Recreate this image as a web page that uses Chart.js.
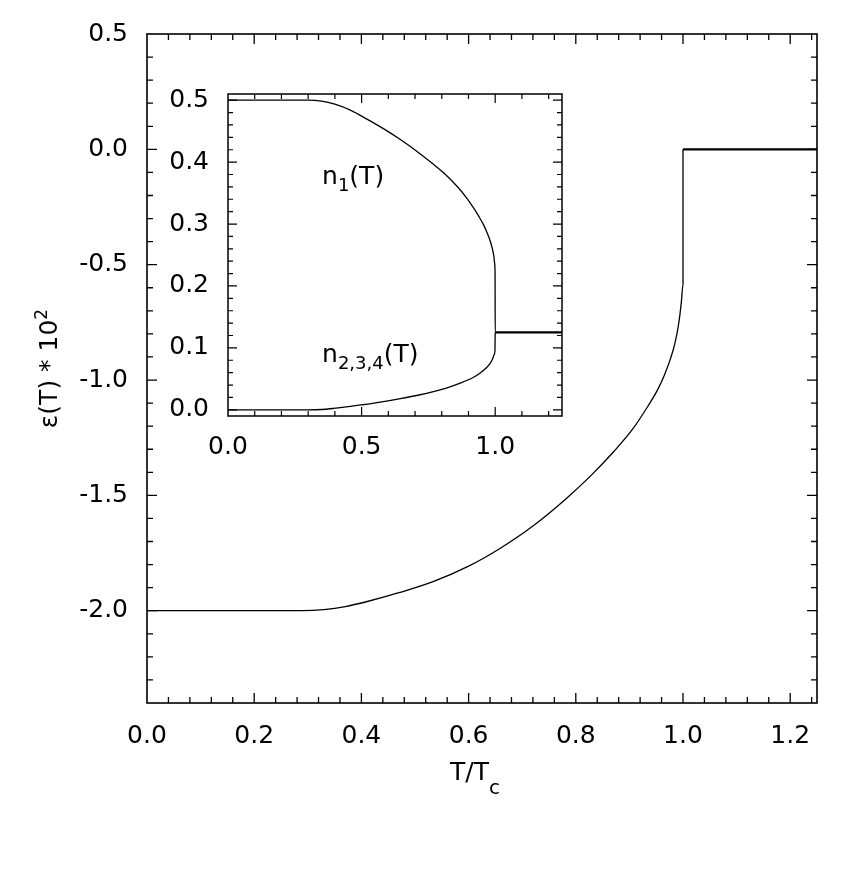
<!DOCTYPE html>
<html>
<head>
<meta charset="utf-8">
<title>epsilon(T) and n(T)</title>
<script src="https://cdn.jsdelivr.net/npm/chart.js@4.4.1/dist/chart.umd.min.js"></script>
<style>
    body { margin: 0; background: #fff; }
    #wrap { position: relative; width: 852px; height: 892px; }
    #mainBox { position: absolute; left: 0; top: 0; width: 852px; height: 892px; }
    #insetBox { position: absolute; left: 150px; top: 60px; width: 430px; height: 420px; }
</style>
</head>
<body>
<div id="wrap">
    <div id="mainBox"><canvas id="mainChart"></canvas></div>
    <div id="insetBox"><canvas id="insetChart"></canvas></div>
</div>
<script>
// main panel: eps(T) * 10^2 against T/Tc
const mainT   = [0, 0.1, 0.2, 0.29, 0.33, 0.37, 0.411, 0.47, 0.535, 0.6, 0.66, 0.72, 0.784, 0.83, 0.871, 0.907, 0.93, 0.952, 0.965, 0.977, 0.985, 0.992, 0.997, 1.0, 1.0, 1.25];
const mainEps = [-2.0, -2.0, -2.0, -2.0, -1.995, -1.982, -1.96, -1.922, -1.873, -1.807, -1.728, -1.633, -1.51, -1.41, -1.31, -1.21, -1.13, -1.045, -0.98, -0.905, -0.84, -0.755, -0.66, -0.586, 0.0, 0.0];

// inset: occupation numbers
const insetT1  = [0, 0.1, 0.2, 0.3, 0.35, 0.4, 0.46, 0.52, 0.58, 0.645, 0.71, 0.769, 0.81, 0.857, 0.89, 0.919, 0.94, 0.956, 0.97, 0.981, 0.99, 0.995, 0.998, 0.9995, 1.0, 1.25];
const insetN1  = [0.5, 0.5, 0.5, 0.5, 0.4985, 0.4935, 0.4835, 0.4695, 0.4545, 0.4365, 0.4165, 0.3965, 0.3815, 0.361, 0.344, 0.326, 0.3115, 0.299, 0.2855, 0.273, 0.259, 0.248, 0.236, 0.22, 0.125, 0.125];
const insetT2  = [0, 0.1, 0.2, 0.3, 0.35, 0.395, 0.45, 0.5, 0.57, 0.645, 0.71, 0.769, 0.82, 0.869, 0.919, 0.944, 0.965, 0.981, 0.991, 0.996, 0.999, 1.0];
const insetN234 = [0, 0, 0, 0, 0.0005, 0.0022, 0.005, 0.008, 0.0125, 0.018, 0.0235, 0.0295, 0.0355, 0.043, 0.0525, 0.0595, 0.067, 0.075, 0.083, 0.089, 0.095, 0.125];

// tick labels
const mainXLabels  = [0, 0.2, 0.4, 0.6, 0.8, 1.0, 1.2];
const mainYLabels  = [-2.0, -1.5, -1.0, -0.5, 0.0, 0.5];
const insetXLabels = [0, 0.5, 1.0];
const insetYLabels = [0, 0.1, 0.2, 0.3, 0.4, 0.5];

document.addEventListener('DOMContentLoaded', function() {
    Chart.defaults.font.family = "'DejaVu Sans', sans-serif";
    Chart.defaults.font.size = 25;
    Chart.defaults.color = '#000';

    const FONT = "'DejaVu Sans', sans-serif";

    // box around the plot area plus inward ticks on all four sides
    const frameTicks = {
        id: 'frameTicks',
        afterDraw(chart, args, opts) {
            const { ctx, chartArea: a, scales } = chart;
            ctx.save();
            ctx.strokeStyle = '#000';
            ctx.lineWidth = opts.tickWidth;
            ctx.beginPath();
            tickValues(scales.x, opts.xStep).forEach(v => {
                const px = scales.x.getPixelForValue(v);
                if (px < a.left + 1 || px > a.right - 1) return;
                const len = isMajor(v, opts.xMajor) ? opts.majorLen : opts.minorLen;
                ctx.moveTo(px, a.bottom); ctx.lineTo(px, a.bottom - len);
                ctx.moveTo(px, a.top); ctx.lineTo(px, a.top + len);
            });
            tickValues(scales.y, opts.yStep).forEach(v => {
                const py = scales.y.getPixelForValue(v);
                if (py < a.top + 1 || py > a.bottom - 1) return;
                const len = isMajor(v, opts.yMajor) ? opts.majorLen : opts.minorLen;
                ctx.moveTo(a.left, py); ctx.lineTo(a.left + len, py);
                ctx.moveTo(a.right, py); ctx.lineTo(a.right - len, py);
            });
            ctx.stroke();
            ctx.lineWidth = opts.frameWidth;
            ctx.strokeRect(a.left, a.top, a.right - a.left, a.bottom - a.top);
            ctx.restore();
        }
    };

    // text with sub/superscripts
    const richText = {
        id: 'richText',
        afterDraw(chart, args, opts) {
            const { ctx, chartArea: a, scales } = chart;
            ctx.save();
            ctx.fillStyle = '#000';
            ctx.textBaseline = 'alphabetic';
            opts.items.forEach(item => {
                let x, y;
                if (item.at === 'data') {
                    x = scales.x.getPixelForValue(item.x);
                    y = scales.y.getPixelForValue(item.y);
                } else if (item.at === 'bottom') {
                    x = (a.left + a.right) / 2 + item.dx;
                    y = a.bottom + item.dy;
                } else {
                    x = a.left + item.dx;
                    y = (a.top + a.bottom) / 2;
                }
                ctx.save();
                ctx.translate(x, y);
                if (item.rotate) ctx.rotate(-Math.PI / 2);
                drawRich(ctx, item.parts, item.align);
                ctx.restore();
            });
            ctx.restore();
        }
    };

    function drawRich(ctx, parts, align) {
        let w = 0;
        parts.forEach(p => {
            ctx.font = (p.s || 25) + 'px ' + FONT;
            w += ctx.measureText(p.t).width;
        });
        let cx = align === 'center' ? -w / 2 : 0;
        parts.forEach(p => {
            ctx.font = (p.s || 25) + 'px ' + FONT;
            ctx.fillText(p.t, cx, p.dy || 0);
            cx += ctx.measureText(p.t).width;
        });
    }

    function tickValues(scale, step) {
        const out = [];
        const first = Math.ceil(scale.min / step - 1e-6);
        const last = Math.floor(scale.max / step + 1e-6);
        for (let i = first; i <= last; i++) out.push(i * step);
        return out;
    }

    function isMajor(v, major) {
        const r = v / major;
        return Math.abs(r - Math.round(r)) < 1e-6;
    }

    function toPoints(xs, ys) {
        return xs.map((x, i) => ({ x: x, y: ys[i] }));
    }

    // flat part above Tc is drawn heavier in the original
    function flatWidth(ctx) {
        return (ctx.p0.parsed.x >= 1 && ctx.p1.parsed.x > 1) ? 2.3 : undefined;
    }

    function lineSet(data) {
        return {
            data: data,
            borderColor: '#000',
            borderWidth: 1.3,
            pointRadius: 0,
            fill: false,
            cubicInterpolationMode: 'monotone',
            segment: { borderWidth: flatWidth }
        };
    }

    function axis(min, max, labels, pad, fit, horizontal) {
        return {
            type: 'linear',
            min: min,
            max: max,
            grid: { display: false, drawTicks: false },
            border: { display: false },
            ticks: {
                padding: pad,
                maxRotation: 0,
                autoSkip: false,
                callback: v => Number(v).toFixed(1)
            },
            afterBuildTicks: s => { s.ticks = labels.map(v => ({ value: v })); },
            afterFit: s => {
                if (horizontal) s.height = fit; else s.width = fit;
            }
        };
    }

    new Chart(document.getElementById('mainChart').getContext('2d'), {
        type: 'line',
        data: { datasets: [lineSet(toPoints(mainT, mainEps))] },
        options: {
            responsive: true,
            maintainAspectRatio: false,
            animation: false,
            layout: { padding: { left: 0, top: 34, right: 35, bottom: 0 } },
            plugins: {
                legend: { display: false },
                tooltip: { enabled: false },
                frameTicks: {
                    xStep: 0.04, xMajor: 0.2, yStep: 0.1, yMajor: 0.5,
                    minorLen: 6, majorLen: 10, tickWidth: 1.3, frameWidth: 1.6
                },
                richText: {
                    items: [
                        { at: 'bottom', dx: -7, dy: 77, align: 'center',
                          parts: [{ t: 'T/T' }, { t: 'c', s: 20, dy: 14 }] },
                        { at: 'left', dx: -90, rotate: true, align: 'center',
                          parts: [{ t: 'ε(T) * 10' }, { t: '2', s: 17, dy: -10 }] }
                    ]
                }
            },
            scales: {
                x: axis(0, 1.25, mainXLabels, 18, 189, true),
                y: axis(-2.4, 0.5, mainYLabels, 19, 147, false)
            }
        },
        plugins: [frameTicks, richText]
    });

    new Chart(document.getElementById('insetChart').getContext('2d'), {
        type: 'line',
        data: {
            datasets: [
                lineSet(toPoints(insetT1, insetN1)),
                lineSet(toPoints(insetT2, insetN234))
            ]
        },
        options: {
            responsive: true,
            maintainAspectRatio: false,
            animation: false,
            layout: { padding: { left: 0, top: 22, right: 18, bottom: 0 } },
            plugins: {
                legend: { display: false },
                tooltip: { enabled: false },
                frameTicks: {
                    xStep: 0.1, xMajor: 0.5, yStep: 0.02, yMajor: 0.1,
                    minorLen: 5, majorLen: 9, tickWidth: 1.2, frameWidth: 1.5
                },
                richText: {
                    items: [
                        { at: 'data', x: 0.352, y: 0.3645, align: 'left',
                          parts: [{ t: 'n' }, { t: '1', s: 18, dy: 6.6 }, { t: '(T)' }] },
                        { at: 'data', x: 0.352, y: 0.0766, align: 'left',
                          parts: [{ t: 'n' }, { t: '2,3,4', s: 18, dy: 6.8 }, { t: '(T)' }] }
                    ]
                }
            },
            scales: {
                x: axis(0, 1.25, insetXLabels, 16, 64, true),
                y: axis(-0.01, 0.51, insetYLabels, 19, 78, false)
            }
        },
        plugins: [frameTicks, richText]
    });
});
</script>
</body>
</html>
